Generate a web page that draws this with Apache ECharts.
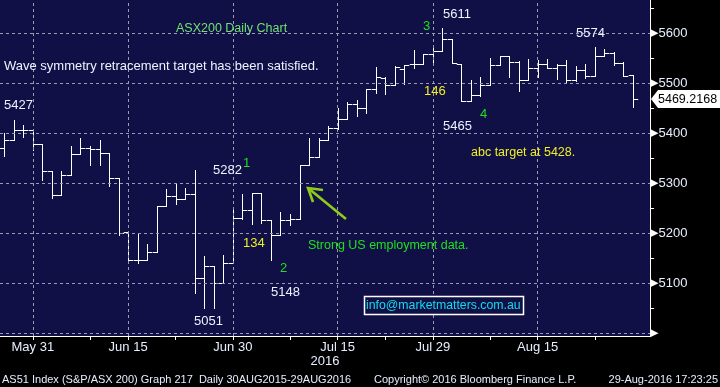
<!DOCTYPE html>
<html><head><meta charset="utf-8">
<script src="https://cdn.jsdelivr.net/npm/echarts@6/dist/echarts.min.js"></script>
<style>html,body{margin:0;padding:0;background:#000;}#c{width:720px;height:387px;}</style>
</head><body><div id="c"></div>
<script>
// ---- data (ASX200 daily OHLC) ----
const dates = ['May 26','May 27','May 30','May 31','Jun 1','Jun 2','Jun 3','Jun 6','Jun 7','Jun 8','Jun 9','Jun 10','Jun 14','Jun 15','Jun 16','Jun 17','Jun 20','Jun 21','Jun 22','Jun 23','Jun 24','Jun 27','Jun 28','Jun 29','Jun 30','Jul 1','Jul 4','Jul 5','Jul 6','Jul 7','Jul 8','Jul 11','Jul 12','Jul 13','Jul 14','Jul 15','Jul 18','Jul 19','Jul 20','Jul 21','Jul 22','Jul 25','Jul 26','Jul 27','Jul 28','Jul 29','Aug 1','Aug 2','Aug 3','Aug 4','Aug 5','Aug 8','Aug 9','Aug 10','Aug 11','Aug 12','Aug 15','Aug 16','Aug 17','Aug 18','Aug 19','Aug 22','Aug 23','Aug 24','Aug 25','Aug 26','Aug 29'];
const opens  = [5372,5388,5407,5408,5379,5325,5278,5318,5360,5372,5370,5362,5312,5204,5147,5147,5163,5256,5275,5269,5280,5112,5136,5102,5142,5232,5247,5282,5228,5197,5228,5230,5338,5354,5388,5412,5430,5459,5452,5490,5512,5498,5530,5540,5540,5560,5565,5589,5540,5466,5477,5498,5538,5555,5544,5508,5532,5540,5532,5537,5508,5528,5516,5555,5562,5542,5518];
const highs  = [5402,5427,5417,5408,5379,5325,5325,5375,5392,5376,5387,5362,5312,5204,5199,5179,5256,5290,5299,5292,5327,5155,5136,5157,5250,5280,5282,5282,5228,5244,5240,5338,5392,5392,5416,5452,5464,5467,5490,5534,5514,5536,5538,5567,5560,5573,5611,5589,5540,5507,5514,5552,5555,5555,5545,5550,5547,5550,5539,5547,5535,5539,5574,5570,5564,5544,5518];
const lows   = [5356,5388,5394,5367,5307,5272,5278,5318,5360,5338,5338,5296,5198,5146,5142,5147,5163,5256,5260,5269,5082,5051,5052,5102,5142,5230,5220,5222,5148,5197,5218,5230,5338,5354,5388,5410,5430,5435,5442,5482,5480,5498,5500,5532,5540,5538,5565,5542,5465,5466,5476,5498,5538,5514,5486,5508,5514,5532,5510,5502,5506,5512,5516,5555,5538,5516,5454];
const closes = [5388,5407,5408,5379,5325,5278,5318,5360,5372,5370,5362,5312,5202,5147,5147,5163,5256,5275,5269,5280,5112,5136,5102,5142,5232,5247,5282,5228,5197,5228,5230,5338,5354,5388,5412,5430,5459,5452,5490,5514,5498,5534,5538,5540,5560,5565,5589,5542,5465,5477,5498,5538,5555,5544,5508,5532,5540,5532,5537,5508,5528,5516,5555,5562,5542,5516,5469.2168];

const xLabelDates = ['May 31','Jun 15','Jun 30','Jul 15','Jul 29','Aug 15'];
const xMinorTickDates = ['Jun 8','Jun 22','Jul 8','Jul 22','Aug 8','Aug 23'];
const yLabelValues = [5000,5100,5200,5300,5400,5500,5600];
const yMinorTickValues = [5050,5150,5250,5350,5450,5550,5650];

// ---- build ----
const FONT = "'Liberation Sans', Arial, sans-serif";
const TXT = '#e6eeff';
const ohlc = dates.map((d, i) => [i, opens[i], highs[i], lows[i], closes[i]]);
const xLabelIdx = xLabelDates.map(d => dates.indexOf(d));
const xTickIdx = xLabelIdx.concat(xMinorTickDates.map(d => dates.indexOf(d))).sort((a,b)=>a-b);

function renderItem(params, api) {
  const i = api.value(0);
  const o = api.coord([i, api.value(1)]);
  const h = api.coord([i, api.value(2)]);
  const l = api.coord([i, api.value(3)]);
  const c = api.coord([i, api.value(4)]);
  const half = api.size([1, 0])[0] / 2;
  const r = v => Math.round(v) + 0.5;
  const x = r(o[0]);
  const st = {stroke: '#ffffff', lineWidth: 1};
  return {type: 'group', children: [
    {type: 'line', shape: {x1: x, y1: Math.round(h[1]), x2: x, y2: Math.round(l[1]) + 1}, style: st},
    {type: 'line', shape: {x1: x - half, y1: r(o[1]), x2: x, y2: r(o[1])}, style: st},
    {type: 'line', shape: {x1: x, y1: r(c[1]), x2: x + half, y2: r(c[1])}, style: st}
  ]};
}

function txt(id, text, x, y, color, size, align, z) {
  return {type: 'text', id: id, x: x, y: y, silent: true, z: z || 10,
    style: {text: text, fill: color, font: (size || 13) + 'px ' + FONT,
      textAlign: align || 'left', textVerticalAlign: 'middle'}};
}

const GREEN = '#1fe01f', YELLOW = '#f0f020', WHITE = '#eef3ff';
const graphics = [
  txt('t1', 'ASX200 Daily Chart', 176, 29, '#72e072', 12.5),
  txt('t2', 'Wave symmetry retracement target has been satisfied.', 4, 66, WHITE, 13),
  txt('t3', '5427', 4, 105, WHITE),
  txt('t4', '5282', 213, 170, WHITE),
  txt('t5', '1', 243, 163, GREEN),
  txt('t6', '134', 243, 243, YELLOW),
  txt('t7', '2', 280, 268, GREEN),
  txt('t8', '5148', 271, 292, WHITE),
  txt('t9', '5051', 194, 321, WHITE),
  txt('t10', 'Strong US employment data.', 308, 246, GREEN, 12.5),
  txt('t11', '3', 423, 26, GREEN),
  txt('t12', '5611', 443, 14, WHITE),
  txt('t13', '146', 424, 91, YELLOW),
  txt('t14', '5465', 443, 126, WHITE),
  txt('t15', '4', 480, 114, GREEN),
  txt('t16', 'abc target at 5428.', 471, 153, YELLOW, 12.5),
  txt('t17', '5574', 576, 33, WHITE),
  {type: 'rect', id: 'box', z: 9, silent: true, shape: {x: 364.5, y: 296.5, width: 159, height: 18},
    style: {fill: '#100f46', stroke: '#ffffff', lineWidth: 1.5}},
  txt('t18', 'info@marketmatters.com.au', 366, 306, '#12dcea', 12.3),
  {type: 'line', id: 'arrowShaft', z: 9, silent: true, shape: {x1: 346, y1: 219, x2: 308, y2: 188},
    style: {stroke: '#8fcb1a', lineWidth: 2.6}},
  {type: 'polyline', id: 'arrowHead', z: 9, silent: true, shape: {points: [[323, 190], [308, 188], [313, 202]]},
    style: {stroke: '#8fcb1a', lineWidth: 2.6, fill: null}},
  txt('t19', '2016', 325, 361, TXT, 13, 'center'),
  txt('f1', 'AS51 Index (S&P/ASX 200) Graph 217  Daily 30AUG2015-29AUG2016', 2, 380, TXT, 11),
  txt('f2', 'Copyright\u00A9 2016 Bloomberg Finance L.P.', 374, 380, TXT, 11),
  txt('f3', '29-Aug-2016 17:23:25', 718, 380, TXT, 11, 'right')
];

const chart = echarts.init(document.getElementById('c'), null, {renderer: 'canvas'});
const gridLine = {color: '#9a9ab4', type: [3, 3], width: 1};
chart.setOption({
  animation: false,
  backgroundColor: '#000000',
  grid: {left: 0, right: 70, top: 0, bottom: 51, show: true, backgroundColor: '#100f46', borderWidth: 0},
  xAxis: {
    type: 'value', min: -0.45, max: 67.8, position: 'bottom',
    axisLine: {show: true, onZero: false, lineStyle: {color: '#ffffff', width: 1}},
    axisTick: {show: true, customValues: xTickIdx, length: 4, lineStyle: {color: '#ffffff'}},
    axisLabel: {show: true, customValues: xLabelIdx, margin: 5, color: TXT, fontSize: 13, fontFamily: FONT,
      formatter: v => dates[Math.round(v)]},
    splitLine: {show: false}
  },
  yAxis: {
    type: 'value', min: 4995, max: 5667, position: 'right',
    axisLine: {show: true, onZero: false, lineStyle: {color: '#ffffff', width: 1}},
    axisTick: {show: true, customValues: yMinorTickValues, length: 4, lineStyle: {color: '#ffffff'}},
    axisLabel: {show: true, customValues: yLabelValues, margin: 0, color: TXT, fontFamily: FONT,
      formatter: v => v === 5000 ? '{a|\u25B6}' : '{a|\u25B6}{b|' + v + '}',
      rich: {a: {fontSize: 11, color: '#ffffff', fontFamily: 'DejaVu Sans'}, b: {fontSize: 13, color: TXT, fontFamily: FONT}}},
    splitLine: {show: false}
  },
  series: [
    {type: 'line', data: [], z: 1, silent: true,
      markLine: {silent: true, symbol: ['none', 'none'], label: {show: false}, lineStyle: gridLine, animation: false,
        data: yLabelValues.map(v => ({yAxis: v})).concat(xLabelIdx.map(i => ({xAxis: i})))}},
    {type: 'custom', z: 3, renderItem: renderItem, data: ohlc, encode: {x: 0, y: [1, 2, 3, 4]}}
  ],
  graphic: graphics
});

// current price tag, positioned through the y axis scale
const last = closes[closes.length - 1];
const py = chart.convertToPixel({yAxisIndex: 0}, last);
chart.setOption({graphic: graphics.concat([
  {type: 'polygon', id: 'tag', z: 11, silent: true,
    shape: {points: [[651, py], [658, py - 9], [720, py - 9], [720, py + 9], [658, py + 9]]},
    style: {fill: '#ffffff'}},
  txt('tagText', last.toFixed(4), 658, py + 0.5, '#000000', 12.5, 'left', 12)
])});
</script></body></html>
